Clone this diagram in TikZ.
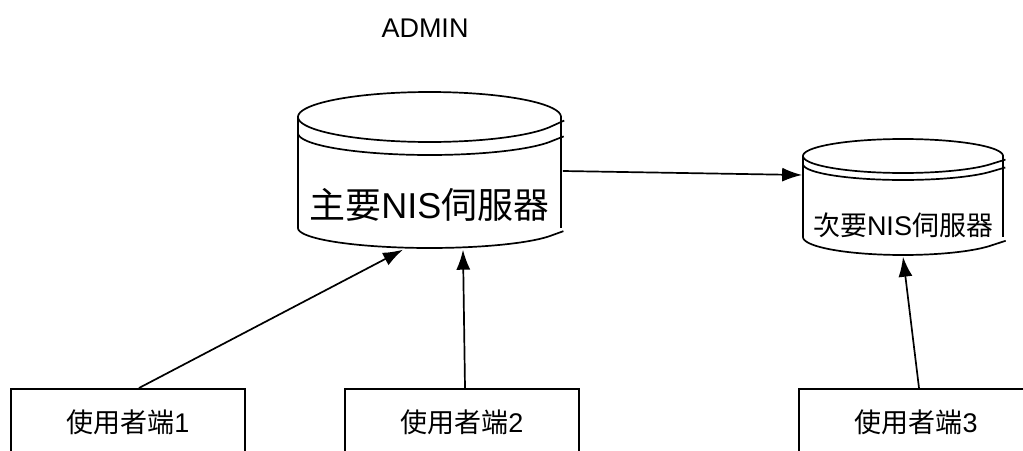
\documentclass[tikz,border=0pt]{standalone}
\usepackage{fontspec}
\setmainfont{Liberation Sans}
\newfontfamily\cjk{Noto Sans CJK TC}
\usetikzlibrary{arrows.meta,calc,decorations.pathmorphing}
\begin{document}
\begin{tikzpicture}[x=1pt,y=-1pt,
  line width=1.7pt,
  wavy/.style={decorate,decoration={random steps,segment length=12pt,amplitude=1.1pt}},
  conn/.style={-{Latex[length=20pt,width=14pt]},line width=1.7pt},
  clientbox/.style={draw,anchor=north,minimum width=234pt,inner sep=0pt,
    text height=44pt,text depth=40pt,font=\fontsize{27pt}{30pt}\selectfont},
  cylnode/.style={inner sep=0pt,anchor=north}]
\pgfmathsetseed{7}
\clip (0,0) rectangle (1023,450);
\fill[white] (0,0) rectangle (1023,450);

% title
\node[anchor=base,font=\fontsize{27pt}{30pt}\selectfont] (admin) at (425,37) {ADMIN};

% cylinder 1
\node[cylnode,minimum width=263pt,text height=125pt,text depth=30pt,
  font=\fontsize{36pt}{40pt}\selectfont] (c1) at (429.5,93)
  {{\cjk 主要}NIS{\cjk 伺服器}};
\draw (298,117) -- (298,228);
\draw (561,117) -- (561,228);
\draw[wavy] plot[domain=180:360,samples=60] ({429.5+131.5*cos(\x)},{228-20*sin(\x)});
\draw[wavy] plot[domain=0:360,samples=120] ({429.5+131.5*cos(\x)},{117-25*sin(\x)});
\draw[wavy] plot[domain=180:360,samples=60] ({429.5+131.5*cos(\x)},{133-22*sin(\x)});

% cylinder 2
\node[cylnode,minimum width=200pt,text height=96pt,text depth=20pt,
  font=\fontsize{27pt}{30pt}\selectfont] (c2) at (903,139)
  {{\cjk 次要}NIS{\cjk 伺服器}};
\draw (803,156) -- (803,237);
\draw (1003,156) -- (1003,237);
\draw[wavy] plot[domain=180:360,samples=60] ({903+100*cos(\x)},{237-18*sin(\x)});
\draw[wavy] plot[domain=0:360,samples=120] ({903+100*cos(\x)},{156-17*sin(\x)});
\draw[wavy] plot[domain=180:360,samples=60] ({903+100*cos(\x)},{164-16*sin(\x)});

% client boxes
\node[clientbox] (b1) at (128,388) {\cjk 使用者端\rmfamily 1};
\node[clientbox] (b2) at (462,388) {\cjk 使用者端\rmfamily 2};
\node[clientbox] (b3) at (916,388) {\cjk 使用者端\rmfamily 3};

% connectors
\draw[conn] ($(c1.north east)+(1,78)$) -- ($(c2.north west)+(0,36)$);
\draw[conn] ($(b1.north)+(11,0)$) -- ($(c1.south)+(-26.5,0)$);
\draw[conn] ($(b2.north)+(3,0)$) -- ($(c1.south)+(33.5,0)$);
\draw[conn] ($(b3.north)+(3,0)$) -- (c2.south);
\end{tikzpicture}
\end{document}
